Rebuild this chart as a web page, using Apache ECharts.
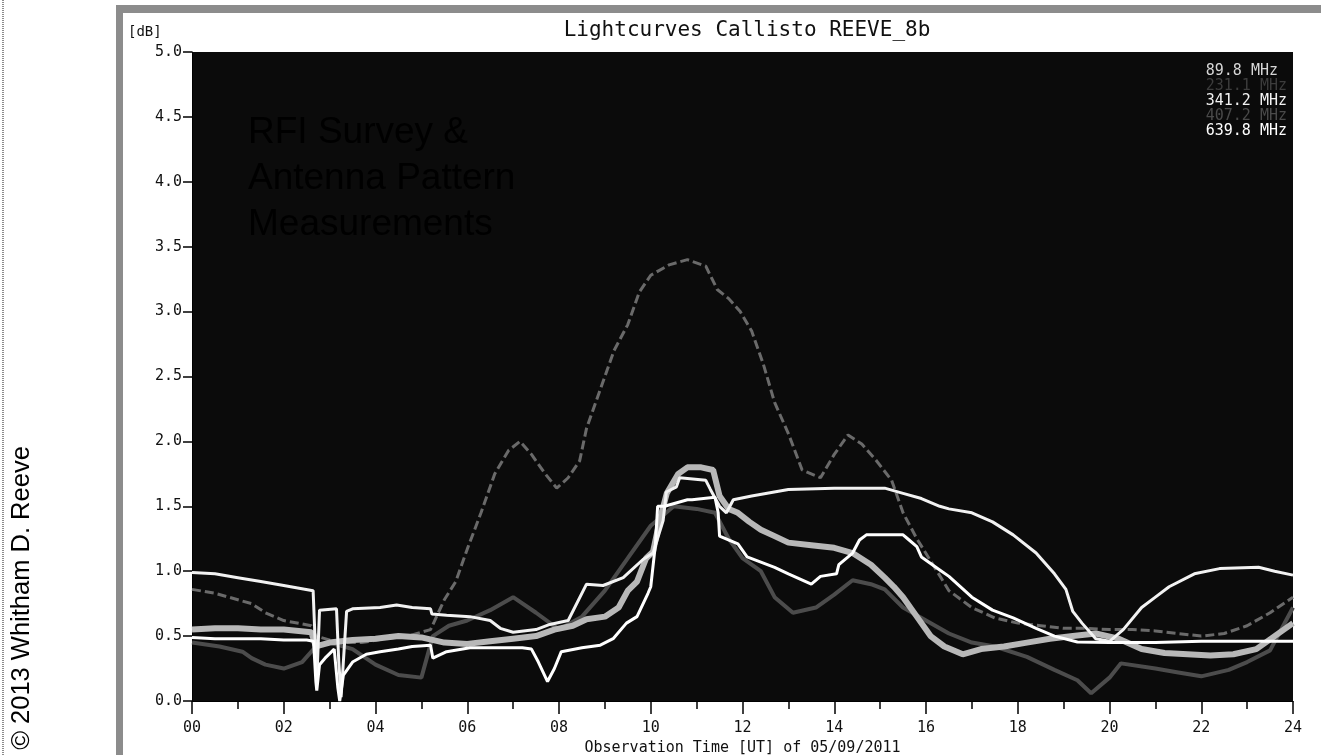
<!DOCTYPE html>
<html>
<head>
<meta charset="utf-8">
<script src="https://cdn.jsdelivr.net/npm/echarts@6/dist/echarts.min.js"></script>
<style>
  html, body { margin: 0; padding: 0; background: #fff; }
  #chart { width: 1321px; height: 755px; }
</style>
</head>
<body>
<div id="chart"></div>
<script>
// hours (UT) and levels (dB), one pair of arrays per frequency
var t898 = [0, 0.5, 1, 1.5, 2, 2.6, 2.7, 3, 3.5, 4, 4.5, 5, 5.5, 6, 6.5, 7, 7.5, 7.9, 8.3, 8.6, 9.0, 9.3, 9.5, 9.7, 9.9, 10.05, 10.2, 10.35, 10.6, 10.8, 11.1, 11.36, 11.5, 11.7, 11.9, 12.15, 12.4, 12.7, 13.0, 13.5, 14.0, 14.4, 14.8, 15.1, 15.3, 15.5, 15.8, 16.1, 16.4, 16.8, 17.2, 17.7, 18.2, 18.7, 19.2, 19.7, 20.2, 20.7, 21.2, 21.7, 22.2, 22.7, 23.2, 23.6, 24];
var v898 = [0.55, 0.56, 0.56, 0.55, 0.55, 0.53, 0.42, 0.45, 0.47, 0.48, 0.5, 0.49, 0.45, 0.44, 0.46, 0.48, 0.5, 0.55, 0.58, 0.63, 0.65, 0.72, 0.85, 0.92, 1.1, 1.15, 1.4, 1.6, 1.75, 1.8, 1.8, 1.78, 1.58, 1.48, 1.45, 1.38, 1.32, 1.27, 1.22, 1.2, 1.18, 1.14, 1.05, 0.95, 0.88, 0.8, 0.65, 0.5, 0.42, 0.36, 0.4, 0.42, 0.45, 0.48, 0.5, 0.52, 0.48, 0.4, 0.37, 0.36, 0.35, 0.36, 0.4, 0.5, 0.6];

var t2311 = [0, 0.5, 1, 1.3, 1.6, 2.0, 2.6, 2.7, 3.2, 3.7, 4.2, 4.7, 5.2, 5.5, 5.75, 6.0, 6.3, 6.6, 6.9, 7.15, 7.4, 7.7, 7.95, 8.2, 8.45, 8.6, 8.9, 9.2, 9.5, 9.75, 10.0, 10.4, 10.8, 11.2, 11.45, 11.7, 11.95, 12.2, 12.45, 12.7, 13.0, 13.3, 13.7, 14.0, 14.3, 14.6, 14.9, 15.25, 15.5, 15.8, 16.1, 16.5, 17.0, 17.5, 18.0, 18.5, 19.0, 19.5, 20.0, 20.5, 21.0, 21.5, 22.0, 22.5, 23.0, 23.5, 24];
var v2311 = [0.86, 0.83, 0.78, 0.75, 0.68, 0.62, 0.58, 0.5, 0.45, 0.45, 0.48, 0.5, 0.55, 0.78, 0.92, 1.17, 1.45, 1.75, 1.93, 2.0, 1.9, 1.75, 1.64, 1.72, 1.85, 2.1, 2.4, 2.7, 2.9, 3.15, 3.28, 3.36, 3.4, 3.35, 3.17, 3.1, 3.0, 2.85, 2.6, 2.3, 2.06, 1.78, 1.72, 1.9, 2.05, 1.98, 1.86, 1.7, 1.45, 1.25, 1.08, 0.85, 0.72, 0.64, 0.6, 0.58, 0.56, 0.56, 0.55, 0.55, 0.54, 0.52, 0.5, 0.52, 0.58, 0.68, 0.8];

var t3412 = [0, 0.5, 1, 1.5, 2, 2.64, 2.68, 2.72, 2.78, 3.15, 3.2, 3.25, 3.37, 3.5, 4.1, 4.46, 4.8, 5.2, 5.23, 5.55, 6.06, 6.5, 6.72, 7.0, 7.5, 7.8, 8.2, 8.6, 8.96, 9.4, 9.83, 10.05, 10.27, 10.34, 10.56, 10.63, 11.2, 11.3, 11.5, 11.65, 11.8, 12.2, 13.0, 14, 15.1, 15.5, 15.9, 16.3, 16.5, 17.0, 17.45, 17.9, 18.4, 18.8, 19.05, 19.2, 19.4, 19.7, 20.0, 20.3, 20.7, 21.0, 21.3, 21.85, 22.4, 23.25, 23.6, 24];
var v3412 = [0.99, 0.98, 0.95, 0.92, 0.89, 0.85, 0.5, 0.15, 0.70, 0.71, 0.3, 0.03, 0.69, 0.71, 0.72, 0.74, 0.72, 0.71, 0.67, 0.66, 0.65, 0.62, 0.56, 0.53, 0.55, 0.59, 0.62, 0.9, 0.89, 0.95, 1.09, 1.14, 1.39, 1.61, 1.65, 1.72, 1.70, 1.63, 1.5, 1.45, 1.55, 1.58, 1.63, 1.64, 1.64, 1.6, 1.56, 1.5, 1.48, 1.45, 1.38, 1.28, 1.14, 0.98, 0.86, 0.69, 0.6, 0.48, 0.46, 0.55, 0.72, 0.80, 0.88, 0.98, 1.02, 1.03, 1.0, 0.97];

var t4072 = [0, 0.6, 1.1, 1.3, 1.6, 2.0, 2.4, 2.7, 3.0, 3.5, 4.0, 4.5, 5.0, 5.25, 5.6, 6.0, 6.5, 7.0, 7.5, 8.0, 8.5, 9.0, 9.5, 10.0, 10.5, 11.0, 11.4, 11.7, 12.0, 12.4, 12.7, 13.1, 13.6, 14.0, 14.4, 14.8, 15.1, 15.5, 16.0, 16.5, 17.0, 17.5, 18.2, 18.8, 19.3, 19.6, 20.0, 20.25, 21.0, 21.5, 22.0, 22.6, 23.0, 23.5, 24];
var v4072 = [0.45, 0.42, 0.38, 0.33, 0.28, 0.25, 0.3, 0.42, 0.45, 0.4, 0.28, 0.2, 0.18, 0.5, 0.58, 0.62, 0.7, 0.8, 0.68, 0.55, 0.65, 0.85, 1.1, 1.35, 1.5, 1.48, 1.45, 1.25, 1.1, 1.0, 0.8, 0.68, 0.72, 0.82, 0.93, 0.9, 0.86, 0.72, 0.62, 0.52, 0.45, 0.42, 0.34, 0.24, 0.16, 0.06, 0.18, 0.29, 0.25, 0.22, 0.19, 0.24, 0.3, 0.39, 0.72];

var t6398 = [0, 0.5, 1, 1.5, 2, 2.5, 2.65, 2.7, 2.72, 2.78, 2.9, 3.1, 3.18, 3.22, 3.3, 3.5, 3.8, 4.1, 4.5, 4.8, 5.2, 5.25, 5.55, 6.06, 6.65, 7.2, 7.4, 7.55, 7.75, 7.9, 8.05, 8.5, 8.9, 9.18, 9.47, 9.7, 9.94, 10.0, 10.1, 10.15, 10.3, 10.8, 10.9, 11.4, 11.47, 11.5, 11.9, 12.1, 12.7, 13.0, 13.5, 13.7, 14.05, 14.1, 14.4, 14.55, 14.7, 15.5, 15.6, 15.8, 15.9, 16.3, 16.5, 17.0, 17.45, 17.9, 18.4, 18.8, 19.3, 20, 21, 22, 23, 24];
var v6398 = [0.49, 0.48, 0.48, 0.48, 0.47, 0.47, 0.46, 0.15, 0.08, 0.28, 0.33, 0.40, 0.1, 0.0, 0.2, 0.3, 0.36, 0.38, 0.40, 0.42, 0.43, 0.33, 0.38, 0.41, 0.41, 0.41, 0.40, 0.30, 0.15, 0.25, 0.38, 0.41, 0.43, 0.48, 0.60, 0.65, 0.83, 0.88, 1.2, 1.5, 1.5, 1.55, 1.55, 1.57, 1.45, 1.27, 1.21, 1.11, 1.03, 0.98, 0.9, 0.96, 0.98, 1.05, 1.14, 1.24, 1.28, 1.28, 1.25, 1.19, 1.11, 1.01, 0.96, 0.8, 0.7, 0.64, 0.56, 0.5, 0.455, 0.45, 0.45, 0.46, 0.46, 0.46];

var freqNames = ['89.8 MHz', '231.1 MHz', '341.2 MHz', '407.2 MHz', '639.8 MHz'];
var legendColors = ['#d6d6d6', '#3c3c3c', '#f2f2f2', '#4a4a4a', '#ffffff'];

function pairs(t, v) {
    return t.map(function (h, i) { return [h, v[i]]; });
}

var mono = '"DejaVu Sans Mono", "Liberation Mono", monospace';
var chart = echarts.init(document.getElementById('chart'));

var option = {
    backgroundColor: '#ffffff',
    animation: false,
    title: {
        text: 'Lightcurves Callisto REEVE_8b',
        left: 742,
        textAlign: 'center',
        top: 15,
        textStyle: { fontFamily: mono, fontSize: 21, fontWeight: 'normal', color: '#111' }
    },
    legend: {
        data: freqNames.map(function (n, i) {
            return { name: n, textStyle: { color: legendColors[i] } };
        }),
        icon: 'none',
        orient: 'vertical',
        right: 29,
        top: 59,
        itemGap: 0,
        itemWidth: 0,
        itemHeight: 15,
        selectedMode: false,
        textStyle: { fontFamily: mono, fontSize: 15, lineHeight: 15, padding: 0 }
    },
    grid: {
        left: 192, top: 52, width: 1101, height: 649,
        outerBoundsMode: 'none',
        show: true, backgroundColor: '#0b0b0b', borderWidth: 0
    },
    xAxis: {
        type: 'value', min: 0, max: 24, interval: 2,
        name: 'Observation Time [UT] of 05/09/2011',
        nameLocation: 'middle', nameGap: 40,
        nameTextStyle: { fontFamily: mono, fontSize: 15, color: '#111' },
        axisLine: { show: true, lineStyle: { color: '#000' } },
        axisTick: { length: 13, lineStyle: { color: '#000', width: 1.5 } },
        minorTick: { show: true, splitNumber: 2, length: 8, lineStyle: { color: '#000', width: 1.5 } },
        splitLine: { show: false },
        axisLabel: {
            margin: 20, fontFamily: mono, fontSize: 15, color: '#111',
            formatter: function (v) { return (v < 10 ? '0' : '') + v; }
        }
    },
    yAxis: {
        type: 'value', min: 0, max: 5, interval: 0.5,
        axisLine: { show: true, lineStyle: { color: '#000' } },
        axisTick: { length: 9, lineStyle: { color: '#000', width: 1.5 } },
        splitLine: { show: false },
        axisLabel: {
            margin: 10, fontFamily: mono, fontSize: 15, color: '#111',
            formatter: function (v) { return v.toFixed(1); }
        }
    },
    graphic: [
        { type: 'rect', left: 116, top: 5, shape: { width: 7, height: 750 }, style: { fill: '#8c8c8c' }, silent: true },
        { type: 'rect', left: 116, top: 5, shape: { width: 1205, height: 8 }, style: { fill: '#8c8c8c' }, silent: true },
        { type: 'line', shape: { x1: 3, y1: 0, x2: 3, y2: 755 }, style: { stroke: '#666', lineWidth: 1.5, lineDash: [1, 1] }, silent: true },
        {
            type: 'text', x: 22, y: 598, rotation: Math.PI / 2,
            style: { text: '\u00a9 2013 Whitham D. Reeve', font: '25.5px "Liberation Sans", Arial, sans-serif', fill: '#000', textAlign: 'center', textVerticalAlign: 'middle' }
        },
        {
            type: 'text', x: 128, y: 25,
            style: { text: '[dB]', font: '14px ' + mono, fill: '#111' }
        },
        {
            type: 'text', x: 248, y: 110, z: 100,
            style: { text: 'RFI Survey &\nAntenna Pattern\nMeasurements', font: '37px "Liberation Sans", Arial, sans-serif', lineHeight: 46, fill: '#000' }
        }
    ],
    series: [
        {
            name: '231.1 MHz', type: 'line', showSymbol: false, z: 2,
            lineStyle: { color: '#6a6a6a', width: 3, type: [9, 4] },
            itemStyle: { color: '#6a6a6a' },
            data: pairs(t2311, v2311)
        },
        {
            name: '407.2 MHz', type: 'line', showSymbol: false, z: 2,
            lineStyle: { color: '#4c4c4c', width: 4 },
            itemStyle: { color: '#4c4c4c' },
            data: pairs(t4072, v4072)
        },
        {
            name: '89.8 MHz', type: 'line', showSymbol: false, z: 3,
            lineStyle: { color: '#b8b8b8', width: 6 },
            itemStyle: { color: '#b8b8b8' },
            data: pairs(t898, v898)
        },
        {
            name: '341.2 MHz', type: 'line', showSymbol: false, z: 4,
            lineStyle: { color: '#f2f2f2', width: 3 },
            itemStyle: { color: '#f2f2f2' },
            data: pairs(t3412, v3412)
        },
        {
            name: '639.8 MHz', type: 'line', showSymbol: false, z: 5,
            lineStyle: { color: '#ffffff', width: 3 },
            itemStyle: { color: '#ffffff' },
            data: pairs(t6398, v6398)
        }
    ]
};

option && chart.setOption(option);
window.addEventListener('resize', function () {
    chart.resize();
});
</script>
</body>
</html>
